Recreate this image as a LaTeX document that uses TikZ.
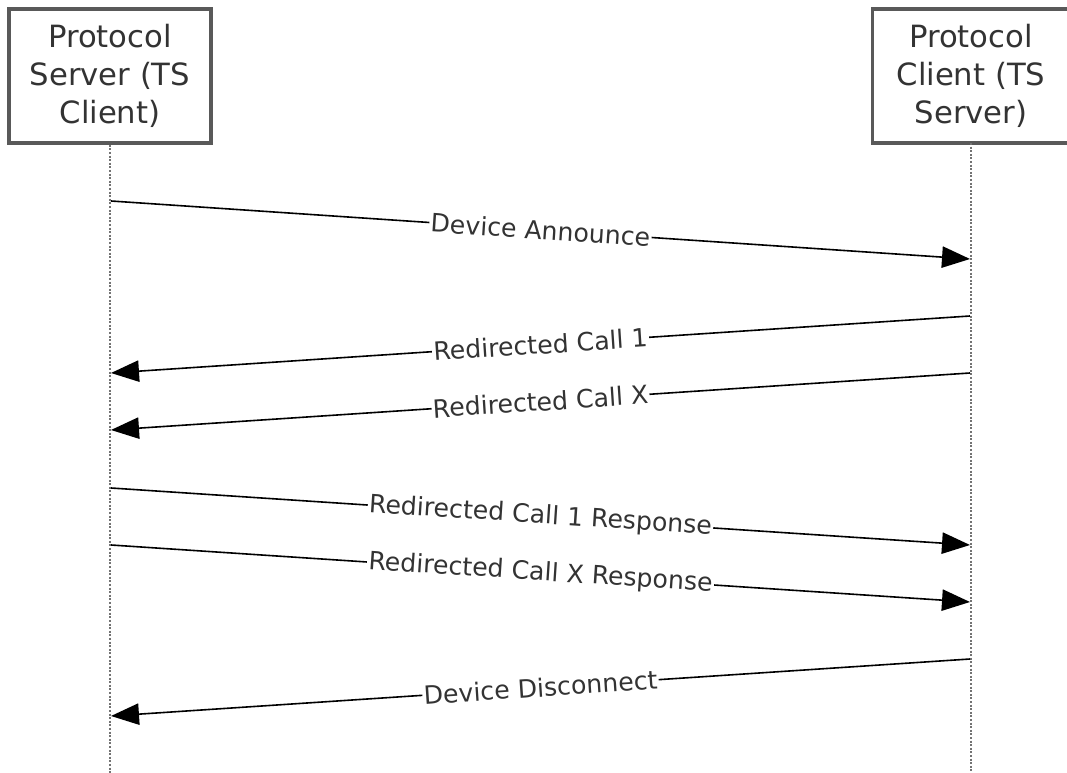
\documentclass[tikz,border=0pt]{standalone}
\usepackage{fontspec}
\setmainfont{DejaVu Sans}
\usetikzlibrary{arrows.meta}
\tikzset{
	actor/.style={draw=black!65, line width=2.6pt, fill=white, align=center,
		minimum width=151.5pt, minimum height=100.5pt, inner sep=0pt,
		text=black!80, font=\fontsize{23}{28.5}\selectfont},
	lifeline/.style={black!55, line width=1.8pt, dash pattern=on 1.5pt off 1.2pt},
	msg/.style={black, line width=1.2pt, -{Triangle[length=21pt,width=16pt]}},
	lbl/.style={sloped, fill=white, inner sep=1pt, text=black!80,
		font=\fontsize{18.9}{22}\selectfont}
}
\begin{document}
\begin{tikzpicture}[x=0.75pt,y=-0.75pt]
	\useasboundingbox (0,0) rectangle (1067,773);
	\clip (0,0) rectangle (1067,773);

	% the two parties
	\node[actor] (srv) at (110,76) {Protocol\\Server (TS\\Client)};
	\node[actor, minimum width=165pt, anchor=west] (cli) at (871,76) {};
	\node[text=black!80, align=center, font=\fontsize{23}{28.5}\selectfont]
		(cliTxt) at (971,76) {Protocol\\Client (TS\\Server)};

	\path
	(110,773) coordinate (srvEnd)
	(971,143) coordinate (cliBot)
	(971,773) coordinate (cliEnd);

	\draw[lifeline] (srv.south) -- (srvEnd);
	\draw[lifeline] (cliBot) -- (cliEnd);

	% message ends on the lifelines
	\path
	(111,201) coordinate (S1)
	(970,259) coordinate (C1)
	(970,316) coordinate (C2)
	(111,373) coordinate (S2)
	(970,373) coordinate (C3)
	(111,430) coordinate (S3)
	(111,488) coordinate (S4)
	(970,545) coordinate (C4)
	(111,545) coordinate (S5)
	(970,602) coordinate (C5)
	(970,659) coordinate (C6)
	(111,716) coordinate (S6);

	\draw[msg] (S1) -- node[lbl] {Device Announce} (C1);
	\draw[msg] (C2) -- node[lbl] {Redirected Call 1} (S2);
	\draw[msg] (C3) -- node[lbl] {Redirected Call X} (S3);
	\draw[msg] (S4) -- node[lbl] {Redirected Call 1 Response} (C4);
	\draw[msg] (S5) -- node[lbl] {Redirected Call X Response} (C5);
	\draw[msg] (C6) -- node[lbl] {Device Disconnect} (S6);
\end{tikzpicture}
\end{document}
